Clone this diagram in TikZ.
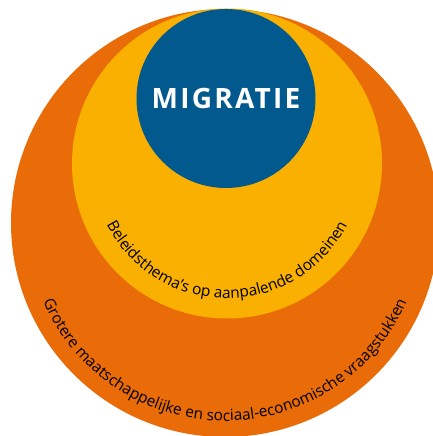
\documentclass[tikz,border=0pt]{standalone}
\usepackage{fontspec}
\setmainfont{Open Sans}
\newfontfamily\titlefont[LetterSpace=8]{Open Sans}
\usetikzlibrary{decorations.text}
\definecolor{ringorange}{RGB}{233,108,8}
\definecolor{ringyellow}{RGB}{249,176,0}
\definecolor{coreblue}{RGB}{1,89,142}

\begin{document}
\begin{tikzpicture}
	[	x=1pt,y=1pt,
	ring/.style={circle,draw=none,inner sep=0pt},
	arclabel/.style={decorate,decoration={text along path,text align=center,
		text={|\fontsize{15.4}{15.4}\selectfont|#1}}}
	]
	\useasboundingbox (0,0) rectangle (433,436);
	\clip (0,0) rectangle (433,436);
	\node[ring,fill=ringorange,minimum size=428pt] (outer) at (225,213){};
	\node[ring,fill=ringyellow,minimum size=310pt] (middle) at (227,272.5){};
	\node[ring,fill=coreblue,minimum size=179pt,text=white,
		font=\titlefont\bfseries\fontsize{28}{28}\selectfont] (core) at (226,337.5){MIGRATIE};

	\path[arclabel={Beleidsthema’s op aanpalende domeinen}]
		([shift={(180:135)}]middle.center) arc[start angle=180,end angle=360,radius=135];
	\path[arclabel={Grotere maatschappelijke en sociaal-economische vraagstukken}]
		([shift={(180:198)}]outer.center) arc[start angle=180,end angle=360,radius=198];
\end{tikzpicture}
\end{document}
